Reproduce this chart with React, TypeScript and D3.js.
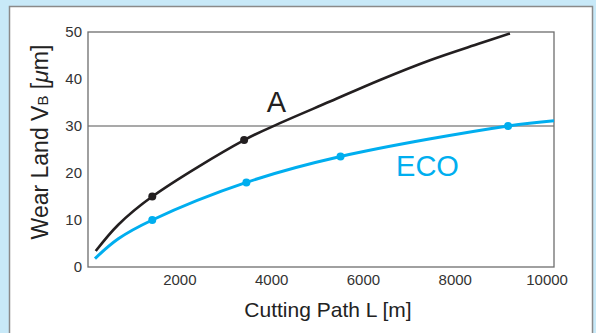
import React from "react";
import * as d3 from "d3";

const W = 596;
const H = 333;

const xTicks = [2000, 4000, 6000, 8000, 10000];
const yTicks = [0, 10, 20, 30, 40, 50];

// Curve A (black): cutting path [m], wear [µm]
const aL = [168, 660, 1400, 3400, 4180, 5270, 6360, 7450, 8540, 9190];
const aV = [3.4, 9.0, 15, 27, 30.6, 35.2, 39.8, 44.0, 47.6, 49.7];
const aMarkL = [1400, 3400];
const aMarkV = [15, 27];

// Curve ECO (blue)
const ecoL = [152, 660, 1400, 3450, 5500, 9150, 10150];
const ecoV = [1.8, 6.0, 10, 18, 23.5, 30, 31.1];
const ecoMarkL = [1400, 3450, 5500, 9150];
const ecoMarkV = [10, 18, 23.5, 30];

const refLine = 30;

export default function App() {
  const x = d3.scaleLinear().domain([0, 10150]).range([88, 554]);
  const y = d3.scaleLinear().domain([0, 50]).range([267, 32]);
  const line = d3
    .line<[number, number]>()
    .x((d) => x(d[0]))
    .y((d) => y(d[1]))
    .curve(d3.curveCatmullRom.alpha(0.5));
  const aPts = aL.map((l, i) => [l, aV[i]] as [number, number]);
  const ecoPts = ecoL.map((l, i) => [l, ecoV[i]] as [number, number]);
  const black = "#231f20";
  const blue = "#00aeef";
  const font = "'Liberation Sans', Arial, Helvetica, sans-serif";
  return (
    <svg
      width={W}
      height={H}
      style={{ position: "fixed", left: 0, top: 0 }}
      fontFamily={font}
    >
      <rect x={0} y={0} width={W} height={H} fill="#c8e9f8" />
      <rect x={9.5} y={6.5} width={583} height={340} fill="#fff" stroke="#8a8a8a" strokeWidth={1.5} />
      <line x1={x(0)} x2={x(10150)} y1={y(refLine)} y2={y(refLine)} stroke="#555" strokeWidth={1.2} />
      <rect x={x(0)} y={y(50)} width={x(10150) - x(0)} height={y(0) - y(50)} fill="none" stroke="#6d6d6d" strokeWidth={1.3} />
      {yTicks.map((t) => (
        <text key={t} x={82} y={y(t)} dy="0.36em" textAnchor="end" fontSize={15} fill="#333">
          {t}
        </text>
      ))}
      {xTicks.map((t) => (
        <text key={t} x={x(t)} y={285} textAnchor="middle" fontSize={15} fill="#333">
          {t}
        </text>
      ))}
      <path d={line(ecoPts) || ""} fill="none" stroke={blue} strokeWidth={3} />
      <path d={line(aPts) || ""} fill="none" stroke={black} strokeWidth={2.6} />
      {ecoMarkL.map((l, i) => (
        <circle key={"e" + i} cx={x(l)} cy={y(ecoMarkV[i])} r={4} fill={blue} />
      ))}
      {aMarkL.map((l, i) => (
        <circle key={"a" + i} cx={x(l)} cy={y(aMarkV[i])} r={4} fill={black} />
      ))}
      <text x={276.5} y={112} textAnchor="middle" fontSize={29} fill={black}>
        A
      </text>
      <text x={427.5} y={176} textAnchor="middle" fontSize={29} fill={blue}>
        ECO
      </text>
      <text x={328} y={317} textAnchor="middle" fontSize={21} fill="#222">
        Cutting Path L [m]
      </text>
      <text
        transform={`translate(48,${142}) rotate(-90)`}
        textAnchor="middle"
        fontSize={23}
        fill="#222"
      >
        Wear Land V<tspan fontSize={15}>B</tspan> [<tspan fontStyle="italic">μ</tspan>m]
      </text>
    </svg>
  );
}
